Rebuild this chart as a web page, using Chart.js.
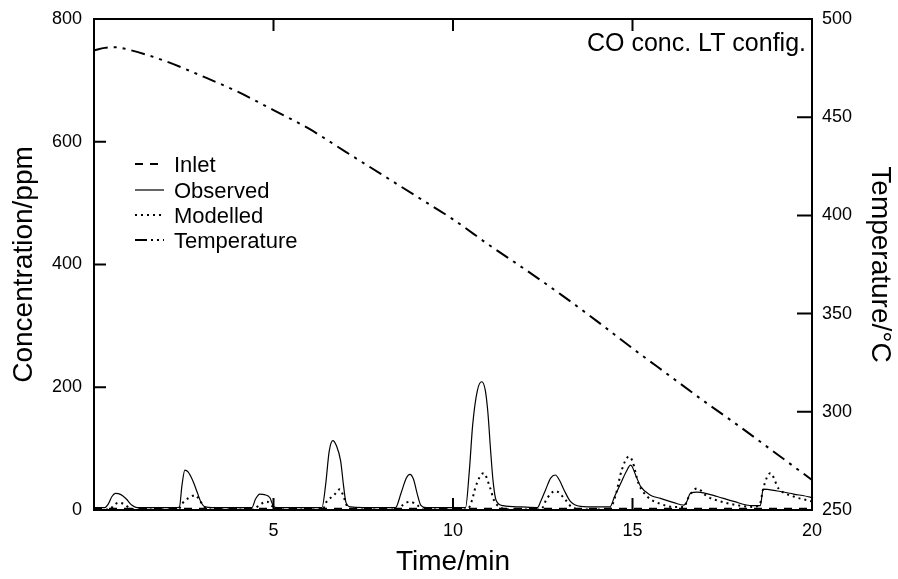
<!DOCTYPE html>
<html><head><meta charset="utf-8">
<script src="https://cdn.jsdelivr.net/npm/chart.js@4.4.0/dist/chart.umd.min.js"></script>
<style>html,body{margin:0;padding:0;background:#fff}#wrap{width:898px;height:579px}</style>
</head><body><div id="wrap"><canvas id="c" width="898" height="579"></canvas></div>
<script>
// ---- data ----
const titleText = 'CO conc. LT config.';
const seriesLabels = ['Inlet', 'Observed', 'Modelled', 'Temperature'];

const inletTime = [0, 20];
const inletConc = [2, 2];

const obsTime = [0,0.3,0.4,0.5,0.6,0.75,0.9,1.05,1.2,2.3,2.38,2.45,2.53,2.62,2.75,2.88,2.97,3.1,3.3,4.4,4.5,4.62,4.75,4.9,5.0,5.1,6.35,6.45,6.55,6.65,6.75,6.87,6.95,7.02,7.15,7.5,8.4,8.55,8.7,8.8,8.9,9.0,9.1,9.25,10.35,10.45,10.55,10.68,10.8,10.9,10.97,11.05,11.12,11.2,11.4,11.9,12.35,12.45,12.58,12.72,12.85,12.97,13.09,13.27,13.55,14.0,14.37,14.5,14.67,14.82,14.95,15.1,15.23,15.5,15.78,16.15,16.43,16.5,16.61,16.8,16.98,17.36,17.82,18.33,18.56,18.64,19.03,19.49,19.95,20];
const obsConc = [4,4,10,22,27,25,18,8,4,4,5,40,65,62,48,28,14,5,4,4,18,26,25,20,6,4,4,40,95,113,105,80,40,12,5,4,4,27,52,58,50,27,8,4,4,60,140,195,209,195,160,95,45,16,7,5,4,15,33,52,57,48,33,14,6,5,5,22,43,62,73,55,38,24,19,12,8,12,27,29,28,22,14,7,7,34,31,26,21,20];

const modTime = [0,0.45,0.55,0.7,0.85,1.0,1.2,2.35,2.45,2.65,2.83,2.95,3.1,3.3,4.45,4.6,4.82,4.95,5.1,6.38,6.45,6.68,6.85,6.95,7.05,7.2,8.5,8.6,8.8,9.0,9.15,10.4,10.53,10.63,10.85,11.04,11.14,11.3,11.6,12.45,12.62,12.85,13.1,13.3,13.6,14.35,14.52,14.7,14.9,14.99,15.17,15.41,15.78,16.15,16.45,16.52,16.8,17.08,17.45,18.0,18.37,18.55,18.64,18.84,19.07,19.49,19.86,20];
const modConc = [0.5,1,8,12,9,3,1,1,10,20,24,15,4,1,1,8,13.5,7,1,1,11,24,34,22,6,1,1,8,13.5,8,1,1,16,38,60,35,16,5,1,1,19,31,19,5,1,1,22,65,87,81,43,22,10,5,5,16,35,22,14,7,5,10,35,60,35,22,16,14];

const tempTime = [0,0.3,0.6,1,2,3,4,5,6,7,8,9,10,11,12,13,14,15,16,17,18,19,20];
const tempVals = [484,485.3,485.6,484.2,478.5,471,463,453.6,444,432.5,421,409.5,398,385,372.6,359.8,346.3,332.3,318.8,305.3,292.3,278.8,265.3];

const xTicks = [5, 10, 15, 20];
const concTicks = [0, 200, 400, 600, 800];
const tempTicks = [250, 300, 350, 400, 450, 500];

const FONT = '"Liberation Sans", Arial, Helvetica, sans-serif';
const pts = (t, v) => t.map((x, i) => ({x, y: v[i]}));

const frameTicks = {
  id: 'frameTicks',
  afterDatasetsDraw(chart) {
    const {ctx, chartArea: a, scales} = chart;
    ctx.save();
    ctx.strokeStyle = '#000';
    ctx.setLineDash([]);
    ctx.lineWidth = 2;
    ctx.strokeRect(a.left, a.top, a.right - a.left, a.bottom - a.top);
    ctx.beginPath();
    xTicks.forEach(v => {
      if (v <= scales.x.min || v >= scales.x.max) return;
      const px = scales.x.getPixelForValue(v);
      ctx.moveTo(px, a.bottom); ctx.lineTo(px, a.bottom - 12);
      ctx.moveTo(px, a.top); ctx.lineTo(px, a.top + 12);
    });
    concTicks.forEach(v => {
      if (v <= scales.y.min || v >= scales.y.max) return;
      const py = scales.y.getPixelForValue(v);
      ctx.moveTo(a.left, py); ctx.lineTo(a.left + 12, py);
    });
    tempTicks.forEach(v => {
      if (v <= scales.y1.min || v >= scales.y1.max) return;
      const py = scales.y1.getPixelForValue(v);
      ctx.moveTo(a.right, py); ctx.lineTo(a.right - 15, py);
    });
    ctx.stroke();

    // title
    ctx.fillStyle = '#000';
    ctx.font = '25px ' + FONT;
    ctx.textAlign = 'right';
    ctx.textBaseline = 'alphabetic';
    ctx.fillText(titleText, a.right - 6, 51);

    // legend
    const rows = [172, 198, 223, 248];
    const legendDash = [[8, 7], [], [2, 4], [12, 4, 2, 4, 2, 4]];
    ctx.font = '22px ' + FONT;
    ctx.textAlign = 'left';
    chart.data.datasets.forEach((ds, i) => {
      const y = rows[i] - 8;
      ctx.beginPath();
      ctx.lineWidth = ds.borderWidth;
      ctx.setLineDash(legendDash[i]);
      ctx.moveTo(135, y); ctx.lineTo(164, y);
      ctx.stroke();
      ctx.setLineDash([]);
      ctx.fillText(ds.label, 174, rows[i]);
    });
    ctx.restore();
  }
};

const fitV = w => s => { s.width = w; s.paddingTop = 0; s.paddingBottom = 0; };

new Chart(document.getElementById('c'), {
  type: 'line',
  data: {
    datasets: [
      {label: seriesLabels[0], data: pts(inletTime, inletConc), yAxisID: 'y', borderColor: '#000', borderWidth: 2, borderDash: [8, 7], pointRadius: 0, tension: 0},
      {label: seriesLabels[1], data: pts(obsTime, obsConc), yAxisID: 'y', borderColor: '#000', borderWidth: 1.2, pointRadius: 0, cubicInterpolationMode: 'monotone'},
      {label: seriesLabels[2], data: pts(modTime, modConc), yAxisID: 'y', borderColor: '#000', borderWidth: 2, borderDash: [2, 4], pointRadius: 0, cubicInterpolationMode: 'monotone'},
      {label: seriesLabels[3], data: pts(tempTime, tempVals), yAxisID: 'y1', borderColor: '#000', borderWidth: 2, borderDash: [14, 6, 3, 6, 3, 6], pointRadius: 0, cubicInterpolationMode: 'monotone'}
    ]
  },
  options: {
    responsive: false,
    animation: false,
    devicePixelRatio: 1,
    layout: {padding: {top: 19, left: 0, right: 0, bottom: 0}},
    plugins: {legend: {display: false}, tooltip: {enabled: false}, title: {display: false}},
    scales: {
      x: {
        type: 'linear', min: 0, max: 20,
        afterFit(s) { s.height = 69; s.paddingLeft = 0; s.paddingRight = 0; },
        afterBuildTicks(s) { s.ticks = [0].concat(xTicks).map(v => ({value: v})); },
        grid: {display: false, drawTicks: false},
        border: {display: false},
        ticks: {padding: 10, color: '#000', font: {family: FONT, size: 18}, maxRotation: 0, autoSkip: false,
                callback: v => (v === 0 ? '' : String(v))},
        title: {display: true, text: 'Time/min', color: '#000', font: {family: FONT, size: 28}, padding: {top: 0, bottom: 0}}
      },
      y: {
        position: 'left', min: 0, max: 800,
        afterFit: fitV(94),
        afterBuildTicks(s) { s.ticks = concTicks.map(v => ({value: v})); },
        grid: {display: false, drawTicks: false},
        border: {display: false},
        ticks: {padding: 12, color: '#000', font: {family: FONT, size: 18}},
        title: {display: true, text: 'Concentration/ppm', color: '#000', font: {family: FONT, size: 28}, padding: {top: 7, bottom: 0}}
      },
      y1: {
        position: 'right', min: 250, max: 500,
        afterFit: fitV(86),
        afterBuildTicks(s) { s.ticks = tempTicks.map(v => ({value: v})); },
        grid: {display: false, drawTicks: false},
        border: {display: false},
        ticks: {padding: 10, color: '#000', font: {family: FONT, size: 18}},
        title: {display: true, text: 'Temperature/°C', color: '#000', font: {family: FONT, size: 28}, padding: {top: 1, bottom: 0}}
      }
    }
  },
  plugins: [frameTicks]
});
</script>
</body></html>
